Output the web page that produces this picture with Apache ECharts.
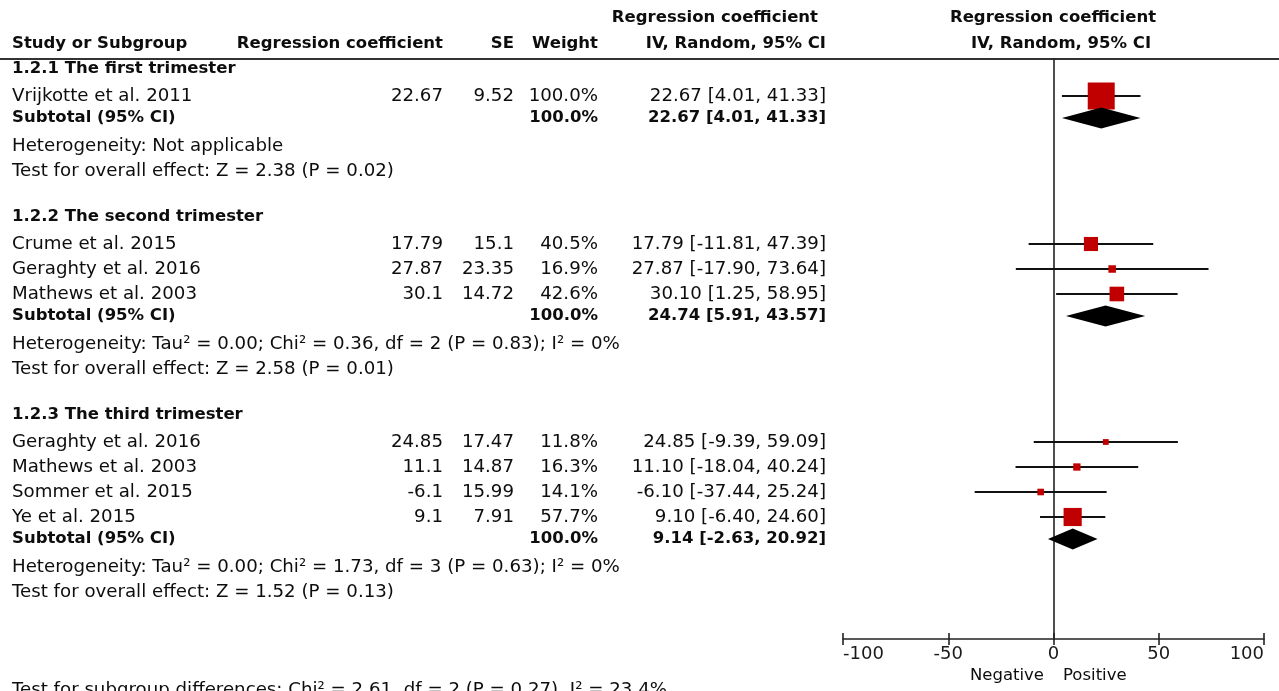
<!DOCTYPE html>
<html>
<head>
<meta charset="utf-8">
<title>Forest plot: regression coefficient by trimester</title>
<script src="https://cdn.jsdelivr.net/npm/echarts@6/dist/echarts.min.js"></script>
<style>
  html, body { margin: 0; padding: 0; background: #fff; }
  #chart { width: 1279px; height: 691px; }
</style>
</head>
<body>
<div id="chart"></div>
<script>
// ---- data ----
const subgroups = ['1.2.1 The first trimester', '1.2.2 The second trimester', '1.2.3 The third trimester'];
const studies = ['Vrijkotte et al. 2011', 'Crume et al. 2015', 'Geraghty et al. 2016', 'Mathews et al. 2003',
                 'Geraghty et al. 2016', 'Mathews et al. 2003', 'Sommer et al. 2015', 'Ye et al. 2015'];
const studyGroup = [0, 1, 1, 1, 2, 2, 2, 2];
const coef = [22.67, 17.79, 27.87, 30.1, 24.85, 11.1, -6.1, 9.1];
const se = [9.52, 15.1, 23.35, 14.72, 17.47, 14.87, 15.99, 7.91];
const weight = [100.0, 40.5, 16.9, 42.6, 11.8, 16.3, 14.1, 57.7];
const ciLow = [4.01, -11.81, -17.90, 1.25, -9.39, -18.04, -37.44, -6.40];
const ciHigh = [41.33, 47.39, 73.64, 58.95, 59.09, 40.24, 25.24, 24.60];
const subEst = [22.67, 24.74, 9.14];
const subLow = [4.01, 5.91, -2.63];
const subHigh = [41.33, 43.57, 20.92];
const subWeight = [100.0, 100.0, 100.0];
const heterogeneity = [
  'Heterogeneity: Not applicable',
  'Heterogeneity: Tau² = 0.00; Chi² = 0.36, df = 2 (P = 0.83); I² = 0%',
  'Heterogeneity: Tau² = 0.00; Chi² = 1.73, df = 3 (P = 0.63); I² = 0%'
];
const overallEffect = [
  'Test for overall effect: Z = 2.38 (P = 0.02)',
  'Test for overall effect: Z = 2.58 (P = 0.01)',
  'Test for overall effect: Z = 1.52 (P = 0.13)'
];
const subgroupDifferences = 'Test for subgroup differences: Chi² = 2.61, df = 2 (P = 0.27), I² = 23.4%';
const xTicks = [-100, -50, 0, 50, 100];
const favourLabels = ['Negative', 'Positive'];

// ---- layout (pixel rows, columns) ----
const FAMILY = '"DejaVu Sans", sans-serif';
const FONT = '18.2px ' + FAMILY;
const BOLD = 'bold 16.5px ' + FAMILY;
const INK = '#0d0d0d';
const COL = { name: 12, coef: 443, se: 514, weight: 598, ci: 826 };
const PLOT = { left: 843, right: 1264, top: 59, bottom: 639 };
const GAP = { firstStudy: 27, study: 25, subtotal: 22, het: 28, test: 25, nextGroup: 46 };

// row positions computed group by group
const rows = { group: [], study: [], subtotal: [], het: [], test: [] };
let cursor = 69;
subgroups.forEach((g, gi) => {
  rows.group[gi] = cursor;
  let first = true;
  studies.forEach((s, si) => {
    if (studyGroup[si] !== gi) return;
    cursor += first ? GAP.firstStudy : GAP.study;
    first = false;
    rows.study[si] = cursor;
  });
  cursor += GAP.subtotal; rows.subtotal[gi] = cursor;
  cursor += GAP.het; rows.het[gi] = cursor;
  cursor += GAP.test; rows.test[gi] = cursor;
  cursor += GAP.nextGroup;
});
const diffRowY = 690;

// ---- table text ----
const graphics = [];
function txt(text, x, y, align, font) {
  graphics.push({
    type: 'text', x: x, y: y, silent: true,
    style: { text: text, fill: INK, font: font || FONT, align: align || 'left', verticalAlign: 'middle' }
  });
}
const ciText = (e, l, h) => e.toFixed(2) + ' [' + l.toFixed(2) + ', ' + h.toFixed(2) + ']';

// column headers
txt('Regression coefficient', 818, 18, 'right', BOLD);
txt('Regression coefficient', 1053, 18, 'center', BOLD);
txt('Study or Subgroup', COL.name, 44, 'left', BOLD);
txt('Regression coefficient', COL.coef, 44, 'right', BOLD);
txt('SE', COL.se, 44, 'right', BOLD);
txt('Weight', COL.weight, 44, 'right', BOLD);
txt('IV, Random, 95% CI', COL.ci, 44, 'right', BOLD);
txt('IV, Random, 95% CI', 1061, 44, 'center', BOLD);
graphics.push({
  type: 'line', silent: true,
  shape: { x1: 0, y1: PLOT.top, x2: 1279, y2: PLOT.top },
  style: { stroke: '#333', lineWidth: 2 }
});

subgroups.forEach((g, gi) => {
  txt(g, COL.name, rows.group[gi], 'left', BOLD);
  txt('Subtotal (95% CI)', COL.name, rows.subtotal[gi], 'left', BOLD);
  txt(subWeight[gi].toFixed(1) + '%', COL.weight, rows.subtotal[gi], 'right', BOLD);
  txt(ciText(subEst[gi], subLow[gi], subHigh[gi]), COL.ci, rows.subtotal[gi], 'right', BOLD);
  txt(heterogeneity[gi], COL.name, rows.het[gi]);
  txt(overallEffect[gi], COL.name, rows.test[gi]);
});
studies.forEach((s, si) => {
  const y = rows.study[si];
  txt(s, COL.name, y);
  txt(String(coef[si]), COL.coef, y, 'right');
  txt(String(se[si]), COL.se, y, 'right');
  txt(weight[si].toFixed(1) + '%', COL.weight, y, 'right');
  txt(ciText(coef[si], ciLow[si], ciHigh[si]), COL.ci, y, 'right');
});
txt(subgroupDifferences, COL.name, diffRowY);
txt(favourLabels[0], 1044, 676, 'right', '16.5px ' + FAMILY);
txt(favourLabels[1], 1063, 676, 'left', '16.5px ' + FAMILY);

// ---- plot data ----
const studyData = studies.map((s, si) => [coef[si], rows.study[si], ciLow[si], ciHigh[si], weight[si]]);
const subtotalData = subgroups.map((g, gi) => [subEst[gi], rows.subtotal[gi], subLow[gi], subHigh[gi]]);

const chart = echarts.init(document.getElementById('chart'), null, { renderer: 'canvas' });
const axisCommon = {
  type: 'value', min: xTicks[0], max: xTicks[xTicks.length - 1], interval: 50,
  position: 'bottom', splitLine: { show: false }
};
chart.setOption({
  animation: false,
  backgroundColor: '#fff',
  grid: {
    left: PLOT.left, right: 1279 - PLOT.right, top: PLOT.top, bottom: 691 - PLOT.bottom,
    containLabel: false, outerBoundsMode: 'none'
  },
  xAxis: [
    Object.assign({}, axisCommon, {
      axisLine: { onZero: false, lineStyle: { color: '#222', width: 1.6 } },
      axisTick: { inside: false, length: 6, lineStyle: { color: '#222', width: 1.6 } },
      axisLabel: {
        color: '#1a1a1a', fontSize: 18, fontFamily: FAMILY, margin: 6,
        alignMinLabel: 'left', alignMaxLabel: 'right',
        customValues: xTicks
      }
    }),
    Object.assign({}, axisCommon, {
      axisLine: { show: false, onZero: false },
      axisTick: { inside: true, length: 6, lineStyle: { color: '#222', width: 1.6 } },
      axisLabel: { show: false }
    })
  ],
  yAxis: {
    type: 'value', min: PLOT.top, max: PLOT.bottom, inverse: true,
    axisLine: { show: true, onZero: true, onZeroAxisIndex: 0, lineStyle: { color: '#222', width: 1.6 } },
    axisTick: { show: false }, axisLabel: { show: false }, splitLine: { show: false }
  },
  graphic: graphics,
  series: [
    {
      // study estimates: CI whisker plus weight-scaled square
      type: 'custom', xAxisIndex: 0, clip: false, silent: true,
      data: studyData,
      renderItem: function (params, api) {
        const y = api.value(1);
        const c = api.coord([api.value(0), y]);
        const lo = api.coord([api.value(2), y]);
        const hi = api.coord([api.value(3), y]);
        const side = 27 * Math.pow(api.value(4) / 100, 0.72);
        return {
          type: 'group',
          children: [
            { type: 'line', shape: { x1: lo[0], y1: lo[1], x2: hi[0], y2: hi[1] },
              style: { stroke: '#111', lineWidth: 1.8 } },
            { type: 'rect', shape: { x: c[0] - side / 2, y: c[1] - side / 2, width: side, height: side },
              style: { fill: '#c00000' } }
          ]
        };
      }
    },
    {
      // pooled subtotal diamonds
      type: 'custom', xAxisIndex: 0, clip: false, silent: true,
      data: subtotalData,
      renderItem: function (params, api) {
        const y = api.value(1);
        const c = api.coord([api.value(0), y]);
        const lo = api.coord([api.value(2), y]);
        const hi = api.coord([api.value(3), y]);
        const h = 10.5;
        return {
          type: 'polygon',
          shape: { points: [[lo[0], c[1]], [c[0], c[1] - h], [hi[0], c[1]], [c[0], c[1] + h]] },
          style: { fill: '#000' }
        };
      }
    }
  ]
});
</script>
</body>
</html>
